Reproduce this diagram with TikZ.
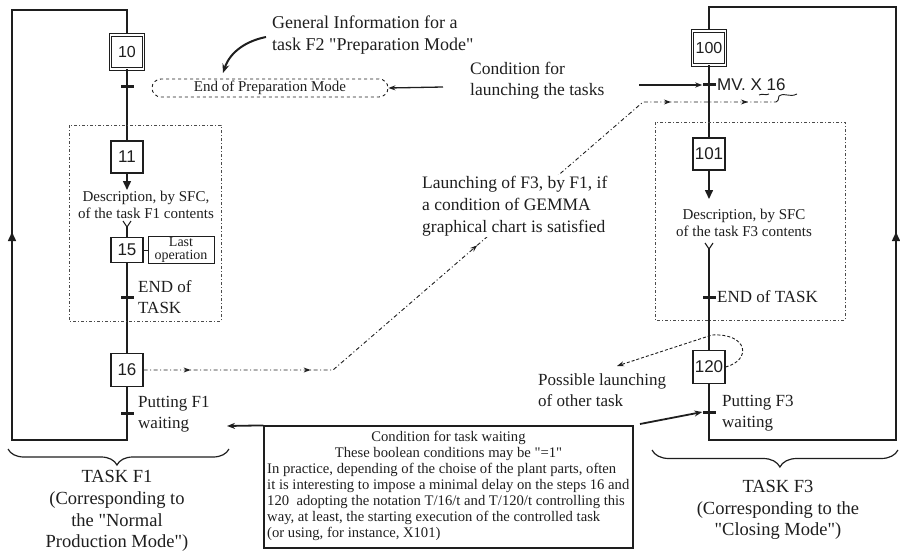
\documentclass[tikz,border=0pt]{standalone}
\usepackage{fontspec}
\setmainfont{Liberation Serif}[Ligatures=TeXOff]
\newfontfamily\stepfont{Liberation Sans}
\usetikzlibrary{arrows.meta,decorations.pathreplacing,decorations.markings}
\definecolor{ink}{RGB}{30,30,30}
\begin{document}
\begin{tikzpicture}[x=1pt,y=-1pt,
  every node/.style={text=ink},
  stepbox/.style={draw=ink,line width=1.2pt,minimum width=32pt,minimum height=32pt,inner sep=0pt,font=\stepfont\fontsize{17}{17}\selectfont},
  initbox/.style={stepbox,double=white,double distance=1.6pt,line width=1pt,minimum width=33pt,minimum height=34pt,font=\stepfont\fontsize{16}{16}\selectfont},
  trbar/.style={fill=ink,minimum width=13pt,minimum height=3pt,inner sep=0pt},
  flow/.style={draw=ink,line width=1.5pt},
  tx/.style={font=\fontsize{17}{21}\selectfont,inner sep=1pt},
  big/.style={font=\fontsize{18.5}{21.7}\selectfont,inner sep=0pt,align=center},
  desc/.style={font=\fontsize{15}{17}\selectfont,inner sep=0pt,align=center},
  sfx/.style={font=\stepfont\fontsize{17}{17}\selectfont,inner sep=1pt},
  lastop/.style={draw=ink,line width=1pt,minimum width=66pt,minimum height=24pt,inner sep=1pt,align=center,font=\fontsize{14}{12.5}\selectfont},
  eop/.style={draw=ink,dashed,line width=0.9pt,rounded corners=9pt,minimum width=236pt,minimum height=18pt,inner sep=0pt,font=\fontsize{15}{15}\selectfont},
  cbox/.style={draw=ink,line width=1.2pt,minimum width=369pt,minimum height=122pt,inner sep=0pt},
  ctext/.style={font=\fontsize{14.65}{16.1}\selectfont,inner sep=0pt},
  ddbox/.style={draw=ink!80,line width=0.9pt,dash pattern=on 3pt off 2pt on 1pt off 2pt},
  dd/.style={draw=ink,line width=0.9pt,dash pattern=on 4pt off 2.5pt on 1pt off 2.5pt},
  thk/.style={draw=ink,line width=1.8pt,-{Stealth[length=8pt,width=6pt]}},
  tri/.style={-{Triangle[length=9pt,width=8pt]}},
  mk/.style={postaction={decorate},decoration={markings,#1}}
]
\useasboundingbox (0,0) rectangle (900,551);

% ---------------- left task F1 ----------------
\node[initbox] (s10) at (127,52) {10};
\node[trbar] (t10) at (127,87) {};
\node[stepbox] (s11) at (127,157) {11};
\coordinate (a11) at (127,190);
\node[desc] (d1) at (146,205) {Description, by SFC,\\of the task F1 contents};
\coordinate (f1) at (127,227);
\node[stepbox,minimum height=25pt] (s15) at (127,250) {15};
\node[lastop] (lo) at (181,250) {Last\\operation};
\node[trbar] (t15) at (127,297) {};
\node[tx,anchor=west,align=left] (e1) at (137,297) {END of\\TASK};
\node[stepbox,minimum height=33pt] (s16) at (127,370) {16};
\node[trbar] (t16) at (127,413) {};
\node[tx,anchor=west,align=left] (p1) at (137,414) {Putting F1\\waiting};

\coordinate (L1) at (127,10);
\coordinate (L0) at (12,10);
\coordinate (Lb0) at (12,440);
\coordinate (Lb1) at (127,440);
\coordinate (La) at (12,232);

\draw[flow] (s10) -- (s11);
\draw[flow,tri] (s11) -- (a11);
\draw[draw=ink,line width=1.1pt] (f1) ++(-4,-6) -- (f1) -- ++(4,-6);
\draw[flow] (f1) -- (s15);
\draw[draw=ink,line width=1pt] (s15) -- (lo);
\draw[flow] (s15) -- (s16);
\draw[flow] (s16) -- (Lb1) -- (Lb0) -- (L0) -- (L1) -- (s10);
\draw[flow,tri] (Lb0) -- (La);
\draw[ddbox] (69,125) rectangle (221,321);

% ---------------- right task F3 ----------------
\node[initbox] (s100) at (709,48) {100};
\node[trbar] (t100) at (709,85) {};
\node[sfx,anchor=west] (mv) at (716,85) {MV. X 16};
\node[stepbox] (s101) at (709,154) {101};
\coordinate (a101) at (709,199);
\node[desc] (d3) at (744,223) {Description, by SFC\\of the task F3 contents};
\coordinate (f3) at (709,249);
\node[trbar] (t3) at (709,297) {};
\node[tx,anchor=west] (e3) at (716,297) {END of TASK};
\node[stepbox,minimum height=33pt] (s120) at (709,367) {120};
\node[trbar] (t120) at (709,412) {};
\node[tx,anchor=west,align=left] (p3) at (721,413) {Putting F3\\waiting};

\coordinate (R1) at (709,7);
\coordinate (R0) at (896,7);
\coordinate (Rb0) at (896,440);
\coordinate (Rb1) at (709,440);
\coordinate (Ra) at (896,232);

\draw[flow] (s100) -- (s101);
\draw[flow,tri] (s101) -- (a101);
\draw[draw=ink,line width=1.1pt] (f3) ++(-4,-6) -- (f3) -- ++(4,-6);
\draw[flow] (f3) -- (s120);
\draw[flow] (s120) -- (Rb1) -- (Rb0) -- (R0) -- (R1) -- (s100);
\draw[flow,tri] (Rb0) -- (Ra);
\draw[ddbox] (655,122) rectangle (845,320);

% self loop at 120
\coordinate (q1) at (712,335);
\coordinate (q2) at (617,366);
\draw[dd,dash pattern=on 3pt off 2pt,-{Stealth[length=7pt,width=5pt]}] (s120.east) .. controls (752,360) and (748,333) .. (q1) -- (q2);
\node[tx,anchor=west,align=left] (pl) at (537,390) {Possible launching\\of other task};

% ---------------- top middle ----------------
\node[tx,font=\fontsize{18}{22}\selectfont,anchor=west,align=left] (gi) at (271,35) {General Information for a\\task F2 "Preparation Mode"};
\node[eop] (eop) at (270,88) {End of Preparation Mode};
\coordinate (g1) at (266,37);
\coordinate (g2) at (223,73);
\draw[draw=ink,line width=2pt,-{Stealth[length=9pt,width=7pt]}] (g1) .. controls (246,41) and (230,52) .. (g2);

\node[tx,font=\fontsize{17.5}{21}\selectfont,anchor=west,align=left] (cl) at (469,81) {Condition for\\launching the tasks};
\coordinate (c1) at (443,87);
\coordinate (c2) at (639,85);
\draw[draw=ink,line width=1.3pt,-{Stealth[length=7pt,width=5pt]}] (c1) -- (eop.east);
\draw[draw=ink,line width=1.3pt,-{Stealth[length=7pt,width=5pt]}] (c2) -- (t100.west);

% launching of F3 by F1
\coordinate (k1) at (333,370);
\coordinate (k2) at (643,102);
\coordinate (k3) at (776,102);
\draw[dd,mk={mark=at position 47pt with {\arrow{Stealth[length=7pt,width=5pt]}},
             mark=at position 167pt with {\arrow{Stealth[length=7pt,width=5pt]}},
             mark=at position 380pt with {\arrow{Stealth[length=7pt,width=5pt]}},
             mark=at position 627pt with {\arrow{Stealth[length=7pt,width=5pt]}},
             mark=at position 704pt with {\arrow{Stealth[length=7pt,width=5pt]}}}]
  (s16.east) -- (k1) -- (k2) -- (k3);
\draw[draw=ink,line width=0.9pt] (k3) .. controls (778,101) .. (779,96) .. controls (785,92) and (789,98) .. (797,94);
\draw[draw=ink,line width=0.9pt] (759,95) .. controls (763,93) and (765,96) .. (769,94);
\node[tx,font=\fontsize{17.5}{22}\selectfont,anchor=west,align=left,fill=white] (lf) at (421,206) {Launching of F3, by F1, if\\a condition of GEMMA\\graphical chart is satisfied};

% ---------------- condition box ----------------
\node[cbox] (cb) at (448.5,487) {};
\node[ctext,align=center] (ct1) at (448.5,446) {Condition for task waiting\\These boolean conditions may be "=1"};
\node[ctext,align=left,anchor=west] (ct2) at (267,502) {In practice, depending of the choise of the plant parts, often\\it is interesting to impose a minimal delay on the steps 16 and\\120 \ adopting the notation T/16/t and T/120/t controlling this\\way, at least, the starting execution of the controlled task\\(or using, for instance, X101)};
\coordinate (w1) at (227,426);
\coordinate (w3) at (640,424);
\draw[thk] (cb.north west) -- (w1);
\draw[thk] (w3) -- (t120.west);

% ---------------- braces and task labels ----------------
\draw[draw=ink,line width=1.2pt,decorate,decoration={brace,amplitude=16pt,aspect=0.507}] (229,449) -- (8,449);
\draw[draw=ink,line width=1.2pt,decorate,decoration={brace,amplitude=17pt,aspect=0.48}] (898,450) -- (652,450);
\node[big] (tf1) at (117,511) {TASK F1\\(Corresponding to\\the "Normal\\Production Mode")};
\node[big] (tf3) at (778,510) {TASK F3\\(Corresponding to the\\"Closing Mode")};
\end{tikzpicture}
\end{document}
